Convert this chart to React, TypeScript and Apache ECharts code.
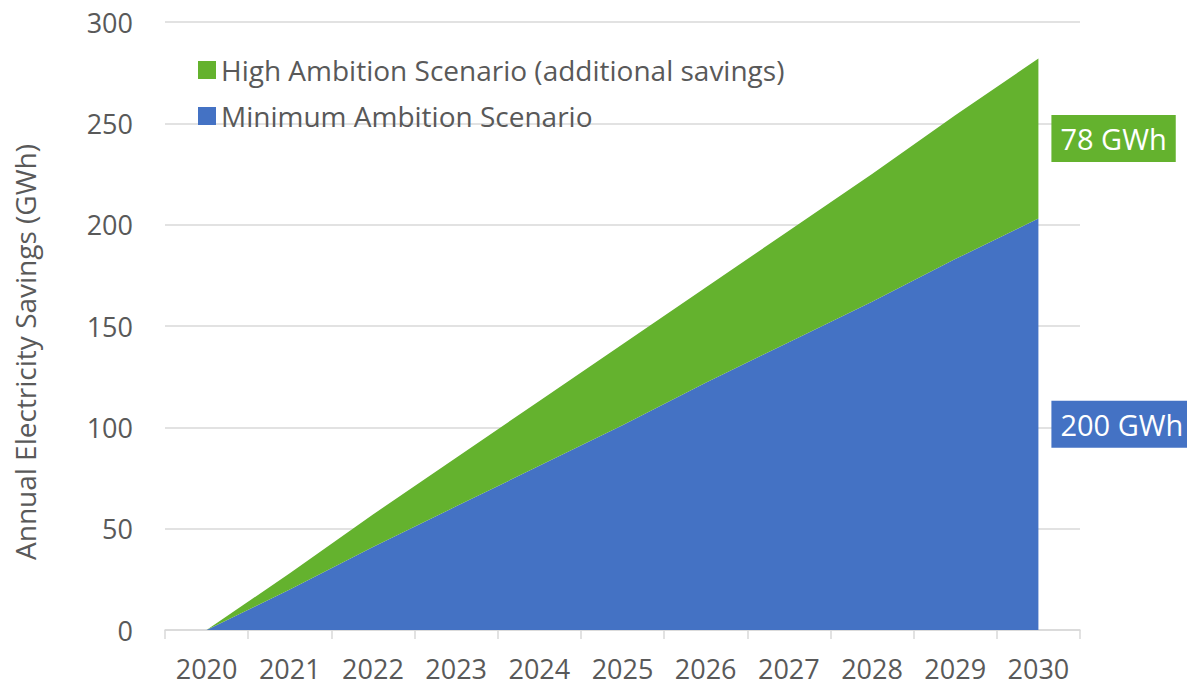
import React, { useEffect, useRef } from "react";
import * as echarts from "echarts";

const years = ["2020", "2021", "2022", "2023", "2024", "2025", "2026", "2027", "2028", "2029", "2030"];
const minimumAmbition = [0, 20, 41, 61, 81, 101, 122, 142, 162, 183, 203];
const highAdditional = [0, 8, 16, 24, 32, 40, 47, 55, 63, 71, 79];
const labelTexts = ["78 GWh", "200 GWh"];
const seriesNames = ["Minimum Ambition Scenario", "High Ambition Scenario (additional savings)"];

const BLUE = "#4472C4";
const GREEN = "#64B22E";
const TEXT = "#595959";
const FONT = "'Open Sans', sans-serif";

export default function App() {
  const ref = useRef<HTMLDivElement>(null);
  useEffect(() => {
    document.body.style.margin = "0";
    const chart = echarts.init(ref.current!, null, { renderer: "svg" });
    const option: any = {
      animation: false,
      textStyle: { fontFamily: FONT },
      grid: { left: 165, right: 107, top: 22, bottom: 56 },
      legend: {
        orient: "vertical",
        left: 193,
        top: 49,
        itemWidth: 18,
        itemHeight: 18,
        itemGap: 14,
        icon: "rect",
        data: [seriesNames[1], seriesNames[0]],
        textStyle: { color: TEXT, fontSize: 28, fontFamily: FONT, lineHeight: 32 },
      },
      xAxis: {
        type: "category",
        data: years,
        boundaryGap: true,
        axisLine: { lineStyle: { color: "#d9d9d9", width: 1.5 } },
        axisTick: { show: true, length: 9, lineStyle: { color: "#d9d9d9", width: 1.5 } },
        axisLabel: { color: TEXT, fontSize: 27, fontFamily: FONT, margin: 25 },
      },
      yAxis: {
        type: "value",
        min: 0,
        max: 300,
        interval: 50,
        axisLine: { show: false },
        axisTick: { show: false },
        splitLine: { lineStyle: { color: "#d9d9d9", width: 1.5 } },
        axisLabel: { color: TEXT, fontSize: 27, fontFamily: FONT, margin: 32 },
      },
      series: [
        {
          name: seriesNames[0],
          type: "line",
          stack: "total",
          data: minimumAmbition,
          symbol: "none",
          lineStyle: { width: 0 },
          itemStyle: { color: BLUE },
          areaStyle: { color: BLUE, opacity: 1 },
        },
        {
          name: seriesNames[1],
          type: "line",
          stack: "total",
          data: highAdditional,
          symbol: "none",
          lineStyle: { width: 0 },
          itemStyle: { color: GREEN },
          areaStyle: { color: GREEN, opacity: 1 },
        },
      ],
    };
    chart.setOption(option);

    const last = years.length - 1;
    const blueTop = minimumAmbition[last];
    const greenTop = blueTop + highAdditional[last];
    const pBlue = chart.convertToPixel({ gridIndex: 0 }, [last, blueTop / 2]) as number[];
    const pGreen = chart.convertToPixel({ gridIndex: 0 }, [last, (blueTop + greenTop) / 2]) as number[];

    const boxStyle = (text: string, bg: string) => ({
      text,
      fill: "#ffffff",
      font: `29px ${FONT}`,
      lineHeight: 35,
      align: "left",
      verticalAlign: "middle",
      backgroundColor: bg,
      padding: [6, 9, 6, 9],
    });

    chart.setOption({
      graphic: [
        {
          type: "text",
          x: 25,
          y: 352,
          rotation: Math.PI / 2,
          style: {
            text: "Annual Electricity Savings (GWh)",
            fill: TEXT,
            font: `28px ${FONT}`,
            align: "center",
            verticalAlign: "middle",
          },
        },
        { type: "text", x: pGreen[0] + 13, y: pGreen[1], style: boxStyle(labelTexts[0], GREEN) },
        { type: "text", x: pBlue[0] + 13, y: pBlue[1], style: boxStyle(labelTexts[1], BLUE) },
      ],
    });
    return () => chart.dispose();
  }, []);
  return <div ref={ref} style={{ width: 1187, height: 686 }} />;
}
